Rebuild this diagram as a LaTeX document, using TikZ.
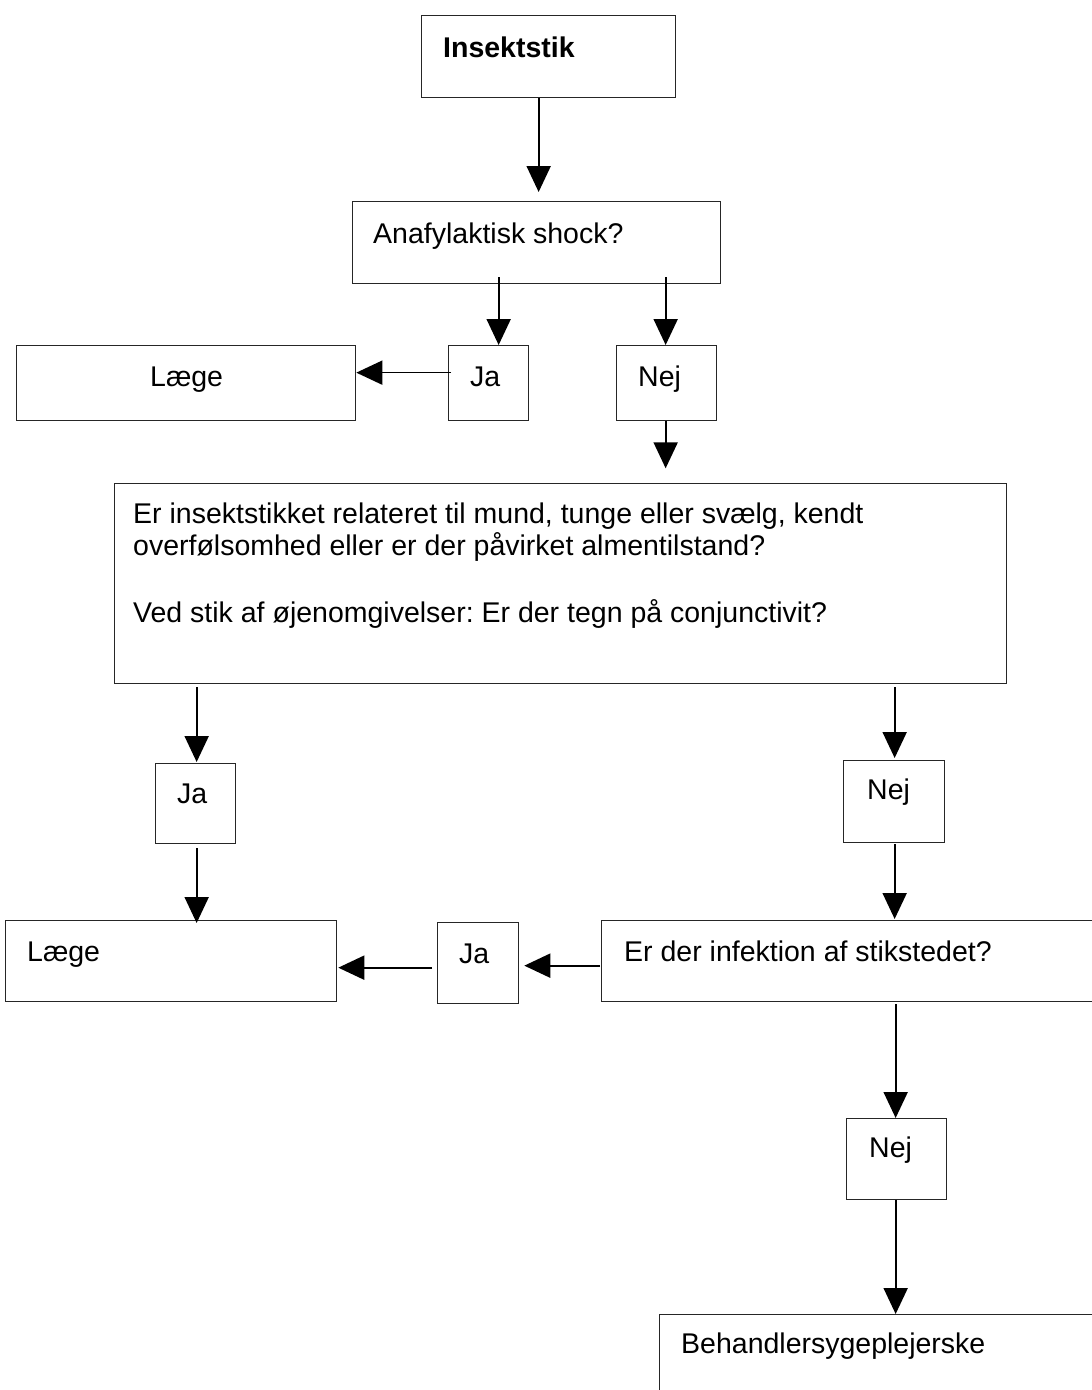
\documentclass[tikz,border=0pt]{standalone}
\usepackage{fontspec}
\setmainfont{Liberation Sans}
\usetikzlibrary{arrows.meta,calc}
\frenchspacing
\begin{document}
\begin{tikzpicture}[x=1pt,y=-1pt,
  box/.style={draw=black!85,line width=1.3pt,inner sep=0pt,anchor=north west},
  lbl/.style={anchor=base west,inner sep=0pt,font=\fontsize{28.5}{33}\selectfont},
  flow/.style={line width=2pt,-{Triangle[length=26pt,width=24pt]}}]
\useasboundingbox (0,0) rectangle (1092,1390);

% boxes
\node[box,minimum width=254,minimum height=82] (ins)    at (421,15)   {};
\node[box,minimum width=368,minimum height=82] (ana)    at (352,201)  {};
\node[box,minimum width=339,minimum height=75] (laege1) at (16,345)   {};
\node[box,minimum width=80, minimum height=75] (ja1)    at (448,345)  {};
\node[box,minimum width=100,minimum height=75] (nej1)   at (616,345)  {};
\node[box,minimum width=892,minimum height=200](big)    at (114,483)  {};
\node[box,minimum width=80, minimum height=80] (ja2)    at (155,763)  {};
\node[box,minimum width=101,minimum height=82] (nej2)   at (843,760)  {};
\node[box,minimum width=331,minimum height=81] (laege2) at (5,920)    {};
\node[box,minimum width=81, minimum height=81] (ja3)    at (437,922)  {};
\node[box,minimum width=499,minimum height=81] (inf)    at (601,920)  {};
\node[box,minimum width=100,minimum height=81] (nej3)   at (846,1118) {};
\node[box,minimum width=441,minimum height=100](beh)    at (659,1314) {};

% texts
\node[lbl] (insT)    at ($(ins.north west)+(22,42)$)    {\bfseries Insektstik};
\node[lbl] (anaT)    at ($(ana.north west)+(21,42)$)    {Anafylaktisk shock?};
\node[lbl] (laege1T) at ($(laege1.north west)+(134,41)$){Læge};
\node[lbl] (ja1T)    at ($(ja1.north west)+(22,41)$)    {Ja};
\node[lbl] (nej1T)   at ($(nej1.north west)+(22,41)$)   {Nej};
\node[lbl] (bigA)    at ($(big.north west)+(19,40)$)    {Er insektstikket relateret til mund, tunge eller svælg, kendt};
\node[lbl] (bigB)    at ($(big.north west)+(19,72)$)    {overfølsomhed eller er der påvirket almentilstand?};
\node[lbl] (bigC)    at ($(big.north west)+(19,139)$)   {Ved stik af øjenomgivelser: Er der tegn på conjunctivit?};
\node[lbl] (ja2T)    at ($(ja2.north west)+(22,40)$)    {Ja};
\node[lbl] (nej2T)   at ($(nej2.north west)+(24,39)$)   {Nej};
\node[lbl] (laege2T) at ($(laege2.north west)+(22,41)$) {Læge};
\node[lbl] (ja3T)    at ($(ja3.north west)+(22,41)$)    {Ja};
\node[lbl] (infT)    at ($(inf.north west)+(23,41)$)    {Er der infektion af stikstedet?};
\node[lbl] (nej3T)   at ($(nej3.north west)+(23,39)$)   {Nej};
\node[lbl] (behT)    at ($(beh.north west)+(22,39)$)    {Behandlersygeplejerske};

% connectors
\coordinate (nejEnd) at ($(nej1.south)+(-1,47)$);
\draw[flow] ($(ins.south)+(-10,0)$) -- ($(ins.south |- ana.north)+(-10,-9)$);
\draw[flow] ($(ja1.north |- ana.south)+(10,-7)$) -- ($(ja1.north)+(10,0)$);
\draw[flow] ($(nej1.north |- ana.south)+(-1,-7)$) -- ($(nej1.north)+(-1,0)$);
\draw[flow,line width=1.6pt] ($(ja1.west)+(3,-10.5)$) -- ($(laege1.east |- ja1.west)+(0,-10.5)$);
\draw[flow] ($(nej1.south)+(-1,0)$) -- (nejEnd);
\draw[flow] ($(ja2.north |- big.south)+(1,3)$) -- ($(ja2.north)+(1,-1)$);
\draw[flow] ($(nej2.north |- big.south)+(0.5,3)$) -- ($(nej2.north)+(0.5,-2)$);
\draw[flow] ($(ja2.south)+(1,4)$) -- ($(ja2.south |- laege2.north)+(1,3)$);
\draw[flow] ($(nej2.south)+(0.5,1)$) -- ($(nej2.south |- inf.north)+(0.5,-1)$);
\draw[flow] ($(inf.west)+(-1,4.5)$) -- ($(ja3.east |- inf.west)+(5,4.5)$);
\draw[flow] ($(ja3.west)+(-5,4.5)$) -- ($(laege2.east |- ja3.west)+(1,4.5)$);
\draw[flow] ($(nej3.north |- inf.south)+(-1,2)$) -- ($(nej3.north)+(-1,0)$);
\draw[flow] ($(nej3.south)+(-1,0)$) -- ($(nej3.south |- beh.north)+(-1,0)$);
\end{tikzpicture}
\end{document}
